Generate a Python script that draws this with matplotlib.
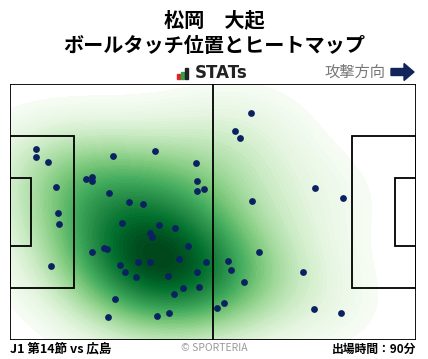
import numpy as np
import matplotlib
matplotlib.use("Agg")
import matplotlib.pyplot as plt
from matplotlib.patches import Rectangle, FancyArrow

plt.rcParams['font.family'] = ['Noto Sans CJK JP', 'DejaVu Sans']

# touch positions in metres (x: 0-105 towards attack, y: 0 at top)
touch_x = [6.8, 6.8, 9.9, 12.0, 12.5, 12.7, 10.7, 26.7, 37.6, 48.2,
           19.7, 21.3, 21.3, 48.4, 48.4, 50.2, 25.7, 30.9, 34.5, 29.0,
           38.6, 42.7, 36.3, 36.8, 46.1, 21.3, 24.4, 25.2, 43.8, 50.8,
           28.5, 33.2, 36.3, 29.8, 32.7, 40.9, 48.4, 49.0, 44.8, 42.5,
           27.2, 53.6, 25.4, 38.1, 41.2, 62.4, 58.3, 59.6, 62.7, 79.0,
           86.2, 64.5, 56.5, 57.2, 60.6, 75.9, 55.4, 78.7, 85.7]
touch_y = [17.3, 19.5, 20.8, 27.4, 34.3, 37.3, 48.4, 19.2, 17.9, 21.1,
           25.3, 24.8, 25.8, 25.8, 28.5, 28.0, 29.0, 31.4, 32.0, 37.0,
           37.5, 38.3, 39.7, 40.7, 43.1, 44.7, 43.6, 43.9, 46.6, 47.4,
           48.2, 47.4, 47.4, 50.0, 51.3, 51.1, 50.0, 54.0, 54.3, 55.9,
           57.2, 59.6, 62.0, 61.7, 60.9, 7.8, 12.6, 14.4, 31.2, 27.7,
           30.4, 44.7, 47.1, 49.5, 52.7, 50.0, 58.2, 59.8, 60.9]

player = "松岡　大起"
subtitle = "ボールタッチ位置とヒートマップ"
match_label = "J1 第14節 vs 広島"
minutes_label = "出場時間：90分"

L, W = 105, 68

fig = plt.figure(figsize=(4.28, 3.59), dpi=100)
ax = fig.add_axes([10 / 428, 19 / 359, 406 / 428, 256 / 359])

# gaussian kde of the touches (wider than scott's rule)
px = np.array(touch_x)
py = np.array(touch_y)
n = len(px)
f = 1.5 * n ** (-1 / 6)
bx, by = px.std() * f, py.std() * f
gx, gy = np.meshgrid(np.linspace(0, L, 300), np.linspace(0, W, 200))
dens = np.zeros_like(gx)
for x0, y0 in zip(px, py):
    dens += np.exp(-0.5 * (((gx - x0) / bx) ** 2 + ((gy - y0) / by) ** 2))
dens /= dens.max()
levels = np.linspace(0.09, 1.0, 60)
ax.contourf(gx, gy, dens, levels=levels, cmap="Greens", extend="max")

# pitch lines
lc = "black"
lw = 1.3
ax.add_patch(Rectangle((0, 0), L, W, fill=False, ec=lc, lw=lw, zorder=3))
ax.plot([L / 2, L / 2], [0, W], color=lc, lw=lw, zorder=3)
pb_y = (W - 40.3) / 2
ga_y = (W - 18.3) / 2
ax.add_patch(Rectangle((0, pb_y), 16.5, 40.3, fill=False, ec=lc, lw=lw, zorder=3))
ax.add_patch(Rectangle((L - 16.5, pb_y), 16.5, 40.3, fill=False, ec=lc, lw=lw, zorder=3))
ax.add_patch(Rectangle((0, ga_y), 5.5, 18.3, fill=False, ec=lc, lw=lw, zorder=3))
ax.add_patch(Rectangle((L - 5.5, ga_y), 5.5, 18.3, fill=False, ec=lc, lw=lw, zorder=3))

ax.scatter(px, py, s=24, color="#0b2260", zorder=4, linewidths=0)

ax.set_xlim(0, L)
ax.set_ylim(W, 0)
ax.axis("off")

# titles
fig.text(0.5, 1 - 20 / 359, player, ha="center", va="center", fontsize=14.5, fontweight="bold")
fig.text(0.5, 1 - 46 / 359, subtitle, ha="center", va="center", fontsize=14.5, fontweight="bold")

# STATs logo
for i, (c, h) in enumerate([("#e8202a", 5), ("#2ea043", 7), ("#222222", 11)]):
    fig.add_artist(Rectangle(((177 + i * 4) / 428, 1 - 79 / 359), 3.2 / 428, h / 359,
                             transform=fig.transFigure, color=c))
fig.text(195 / 428, 1 - 73 / 359, "STATs", ha="left", va="center", fontsize=12,
         fontweight="bold", color="#222222", family=["DejaVu Sans"])

fig.text(385 / 428, 1 - 72 / 359, "攻撃方向", ha="right", va="center", fontsize=11, color="#777777")
fig.add_artist(FancyArrow(391 / 428, 1 - 72 / 359, 13 / 428, 0, width=7 / 359,
                          head_width=17 / 359, head_length=10 / 428, length_includes_head=False,
                          transform=fig.transFigure, color="#13245a"))

# footer
fig.text(10 / 428, 1 - 349 / 359, match_label, ha="left", va="center", fontsize=9, fontweight="bold")
fig.text(0.5, 1 - 348 / 359, "© SPORTERIA", ha="center", va="center", fontsize=7.5, color="#999999")
fig.text(416 / 428, 1 - 349 / 359, minutes_label, ha="right", va="center", fontsize=8.5, fontweight="bold")

fig.savefig("out.png", dpi=100)
